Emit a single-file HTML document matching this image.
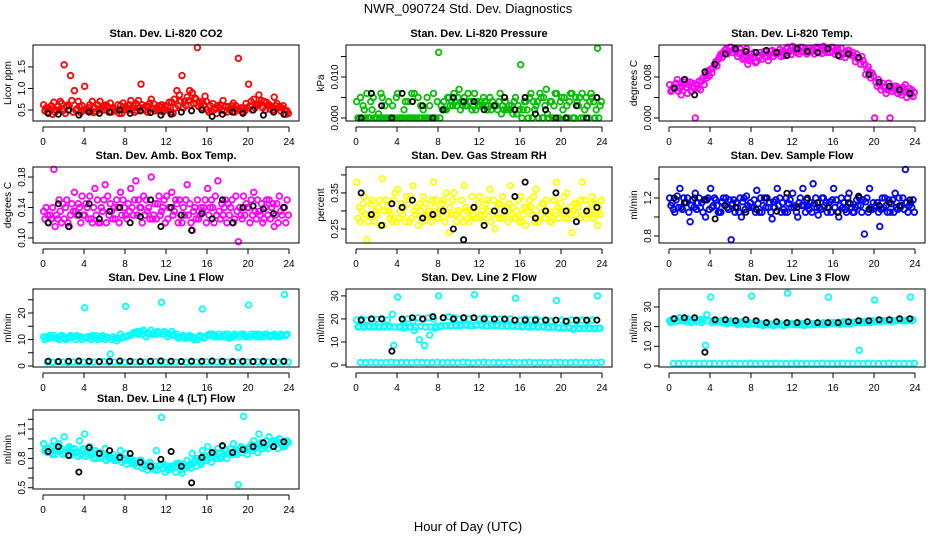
<!DOCTYPE html>
<html><head><meta charset="utf-8">
<style>
html,body{margin:0;padding:0;background:#fff;}
svg{display:block;font-family:"Liberation Sans",sans-serif;}
</style></head>
<body>
<svg id="chart" width="936" height="540" viewBox="0 0 936 540">
<text x="468" y="13" font-size="13" text-anchor="middle">NWR_090724  Std. Dev. Diagnostics</text>
<text x="468" y="531" font-size="13" text-anchor="middle">Hour of Day (UTC)</text>
</svg>
<script>
const hours = [0,4,8,12,16,20,24];
const co2A=[0.62,0.55,0.68,0.5,1.55,0.6,0.95,0.58,1.05,0.62,0.55,0.7,0.5,0.66,0.48,0.6,0.58,0.72,0.65,1.1,0.6,0.75,0.55,0.62,0.5,0.68,0.95,1.3,0.8,0.9,1.95,0.7,0.5,0.65,0.6,0.72,0.58,0.66,1.7,0.55,1.1,0.75,0.85,0.7,0.62,0.8,0.58,0.5];
const co2B=[0.48,0.52,0.45,0.7,0.42,1.3,0.5,0.44,0.52,0.48,0.46,0.55,0.62,0.45,0.5,0.42,0.55,0.5,0.48,0.62,0.45,0.52,0.5,0.46,0.58,0.42,0.6,0.55,0.72,0.65,0.58,0.62,0.45,0.5,0.55,0.48,0.52,0.45,0.5,0.48,0.6,0.55,0.65,0.5,0.52,0.6,0.48,0.4];
const co2C=[0.55,0.6,0.5,0.65,0.58,0.72,0.52,0.6,0.48,0.7,0.62,0.5,0.58,0.55,0.62,0.66,0.5,0.6,0.72,0.55,0.58,0.64,0.6,0.52,0.68,0.75,0.85,0.7,0.95,0.78,0.66,0.82,0.6,0.55,0.62,0.58,0.5,0.6,0.55,0.65,0.7,0.62,0.72,0.68,0.58,0.65,0.55,0.48];
const co2D=[0.45,0.4,0.58,0.48,0.62,0.45,0.7,0.5,0.55,0.44,0.5,0.6,0.45,0.52,0.42,0.5,0.62,0.45,0.55,0.5,0.66,0.48,0.56,0.6,0.45,0.55,0.7,0.6,0.62,0.75,0.55,0.7,0.48,0.42,0.5,0.45,0.6,0.52,0.45,0.55,0.5,0.62,0.55,0.6,0.5,0.55,0.6,0.42];
const co2K=[0.42,0.4,0.5,0.38,0.45,0.42,0.45,0.5,0.42,0.48,0.44,0.38,0.4,0.45,0.48,0.5,0.35,0.4,0.45,0.42,0.5,0.38,0.45,0.4];
const presA=[0.004,0,0.006,0.002,0,0.005,0,0.003,0.006,0,0.004,0,0.005,0.002,0,0.006,0.016,0.004,0.005,0.006,0.007,0.005,0.004,0.006,0.003,0.004,0.005,0.003,0.006,0.004,0.002,0.005,0.013,0.004,0.006,0.003,0.005,0.007,0.004,0.006,0.005,0.003,0.006,0.004,0.006,0.003,0.005,0.017];
const presB=[0,0.003,0,0.005,0.001,0,0.004,0,0,0.002,0,0.006,0,0,0.003,0,0,0.002,0.003,0.004,0.002,0.003,0.004,0.002,0.004,0.003,0.002,0.003,0.001,0.002,0.003,0.001,0,0.002,0,0.004,0,0.001,0,0,0.002,0,0,0.003,0,0,0.004,0];
const presC=[0,0.002,0,0,0,0.003,0,0,0,0.004,0,0,0.003,0,0,0,0.003,0.002,0.004,0.003,0.004,0.003,0.002,0.004,0.003,0.002,0.004,0.002,0.003,0.002,0.001,0.003,0.002,0,0.004,0,0.005,0,0.003,0,0.005,0.004,0,0.005,0.002,0.004,0,0.003];
const presD=[0.005,0,0.004,0,0.006,0,0,0.005,0,0,0.006,0,0,0.005,0,0.004,0.002,0.005,0.003,0.005,0.003,0.006,0.003,0.003,0.005,0.003,0.003,0.004,0.002,0.003,0.004,0.002,0.004,0.005,0.002,0.006,0.003,0.004,0.006,0.004,0,0.006,0.005,0,0.005,0.006,0.002,0.004];
const presK=[0,0.006,0.003,0,0.006,0.004,0.003,0,0.002,0.005,0.004,0.004,0.002,0.003,0.005,0.002,0.005,0.001,0.002,0,0,0.003,0,0.005];
const tempA=[0.0065,0.006,0.0058,0.0075,0.007,0.0,0.0055,0.0085,0.0095,0.011,0.0125,0.0135,0.0138,0.013,0.0128,0.0135,0.0125,0.011,0.0115,0.012,0.0132,0.0125,0.013,0.0138,0.014,0.0135,0.0138,0.0128,0.0132,0.0138,0.014,0.0135,0.0138,0.013,0.0125,0.0132,0.012,0.0115,0.0105,0.009,0.0,0.0065,0.006,0.0,0.0055,0.005,0.0065,0.0045];
const tempB=[0.0052,0.0068,0.0045,0.006,0.0052,0.0065,0.0072,0.0078,0.0088,0.0102,0.0118,0.0125,0.0128,0.012,0.0115,0.0105,0.0118,0.0122,0.0125,0.0112,0.012,0.0128,0.0122,0.0128,0.0132,0.0125,0.013,0.0136,0.0125,0.0128,0.0132,0.0128,0.0125,0.012,0.0118,0.0125,0.011,0.0105,0.0085,0.0078,0.007,0.0055,0.0048,0.0058,0.0062,0.0045,0.004,0.0055];
const tempC=[0.0055,0.0075,0.0062,0.0048,0.0068,0.0058,0.0078,0.0092,0.0098,0.0115,0.0128,0.013,0.0134,0.0126,0.0118,0.0112,0.0128,0.0118,0.013,0.0124,0.0128,0.0134,0.0126,0.0132,0.0136,0.0138,0.0134,0.0132,0.0138,0.0134,0.0136,0.0138,0.0132,0.0136,0.0128,0.0122,0.0125,0.012,0.0095,0.0088,0.0062,0.0068,0.0055,0.0052,0.0048,0.006,0.0052,0.0042];
const tempD=[0.006,0.0052,0.007,0.0065,0.0058,0.0072,0.0065,0.0082,0.0105,0.012,0.0132,0.0138,0.0132,0.0135,0.0122,0.0118,0.0108,0.0128,0.012,0.013,0.0125,0.012,0.0135,0.0124,0.0128,0.013,0.0125,0.013,0.0135,0.0126,0.0128,0.013,0.0136,0.0125,0.0132,0.0128,0.0115,0.0112,0.01,0.0082,0.0075,0.006,0.0068,0.0062,0.0058,0.0052,0.0058,0.005];
const tempK=[0.0058,0.0075,0.0045,0.009,0.0105,0.0125,0.0135,0.013,0.0128,0.0132,0.0128,0.0122,0.0135,0.013,0.0128,0.0135,0.0122,0.0125,0.0118,0.0085,0.007,0.0062,0.0055,0.0048];
const ambA=[0.135,0.12,0.19,0.15,0.125,0.115,0.16,0.14,0.13,0.155,0.165,0.12,0.17,0.145,0.125,0.16,0.13,0.165,0.175,0.14,0.15,0.18,0.125,0.135,0.155,0.16,0.145,0.12,0.17,0.11,0.15,0.135,0.165,0.14,0.175,0.13,0.145,0.12,0.095,0.155,0.14,0.16,0.135,0.125,0.15,0.115,0.155,0.14];
const ambB=[0.125,0.13,0.115,0.135,0.14,0.13,0.135,0.12,0.145,0.125,0.13,0.14,0.12,0.135,0.15,0.13,0.125,0.14,0.13,0.12,0.135,0.125,0.145,0.14,0.125,0.13,0.12,0.14,0.13,0.135,0.125,0.14,0.13,0.12,0.135,0.14,0.13,0.125,0.14,0.13,0.12,0.135,0.13,0.14,0.125,0.13,0.135,0.12];
const ambC=[0.14,0.125,0.13,0.12,0.15,0.145,0.13,0.155,0.14,0.12,0.15,0.135,0.155,0.125,0.14,0.15,0.145,0.13,0.15,0.155,0.14,0.13,0.155,0.15,0.14,0.135,0.15,0.13,0.145,0.14,0.13,0.15,0.14,0.155,0.125,0.15,0.14,0.155,0.13,0.145,0.15,0.125,0.145,0.15,0.14,0.145,0.13,0.15];
const ambD=[0.13,0.14,0.125,0.145,0.12,0.135,0.145,0.13,0.125,0.14,0.12,0.15,0.13,0.14,0.12,0.14,0.135,0.15,0.14,0.13,0.125,0.145,0.13,0.12,0.14,0.15,0.13,0.15,0.12,0.125,0.14,0.12,0.15,0.13,0.145,0.12,0.15,0.135,0.125,0.14,0.13,0.15,0.12,0.13,0.145,0.12,0.14,0.13];
const ambK=[0.12,0.145,0.115,0.13,0.145,0.125,0.135,0.14,0.12,0.128,0.15,0.115,0.14,0.13,0.11,0.132,0.125,0.15,0.12,0.14,0.142,0.138,0.132,0.14];
const rhA=[0.38,0.3,0.22,0.33,0.29,0.39,0.31,0.27,0.36,0.29,0.32,0.37,0.26,0.34,0.3,0.38,0.28,0.33,0.24,0.35,0.3,0.37,0.27,0.31,0.34,0.29,0.36,0.25,0.32,0.3,0.37,0.28,0.34,0.26,0.31,0.36,0.29,0.33,0.27,0.38,0.3,0.35,0.24,0.32,0.38,0.29,0.34,0.26];
const rhB=[0.28,0.32,0.27,0.29,0.31,0.26,0.3,0.33,0.28,0.31,0.27,0.3,0.32,0.28,0.29,0.31,0.3,0.27,0.31,0.29,0.28,0.31,0.3,0.28,0.29,0.32,0.27,0.3,0.28,0.31,0.29,0.3,0.27,0.31,0.29,0.28,0.32,0.3,0.28,0.31,0.3,0.28,0.3,0.31,0.29,0.3,0.28,0.31];
const rhC=[0.31,0.34,0.29,0.27,0.33,0.3,0.28,0.35,0.3,0.27,0.34,0.29,0.3,0.32,0.27,0.33,0.3,0.35,0.29,0.27,0.33,0.3,0.34,0.28,0.3,0.33,0.29,0.32,0.34,0.27,0.31,0.33,0.29,0.3,0.34,0.27,0.32,0.29,0.33,0.28,0.34,0.3,0.32,0.28,0.33,0.3,0.32,0.29];
const rhD=[0.27,0.29,0.32,0.3,0.26,0.33,0.29,0.27,0.32,0.34,0.28,0.31,0.27,0.29,0.33,0.28,0.32,0.29,0.33,0.3,0.27,0.28,0.29,0.32,0.27,0.3,0.33,0.28,0.29,0.32,0.28,0.27,0.31,0.33,0.27,0.31,0.28,0.27,0.3,0.32,0.28,0.31,0.29,0.33,0.28,0.32,0.29,0.33];
const rhK=[0.35,0.29,0.26,0.32,0.31,0.33,0.28,0.29,0.3,0.25,0.22,0.31,0.26,0.3,0.3,0.34,0.38,0.28,0.3,0.35,0.3,0.27,0.3,0.31];
const sfA=[1.2,1.05,1.3,1.15,0.95,1.25,1.1,1.0,1.3,1.18,1.05,1.2,0.76,1.15,1.0,1.22,1.1,1.28,1.05,1.2,0.98,1.3,1.15,1.05,1.25,1.0,1.3,1.12,1.35,1.02,1.2,1.1,1.3,1.0,1.15,1.25,1.05,1.2,0.82,1.3,1.1,0.9,1.2,1.05,1.25,1.1,1.5,1.15];
const sfB=[1.12,1.18,1.1,1.15,1.12,1.08,1.15,1.18,1.1,1.12,1.16,1.1,1.14,1.1,1.16,1.12,1.1,1.14,1.12,1.1,1.16,1.12,1.08,1.14,1.1,1.15,1.12,1.08,1.14,1.1,1.12,1.16,1.1,1.12,1.08,1.14,1.1,1.12,1.16,1.1,1.12,1.08,1.12,1.14,1.1,1.12,1.15,1.1];
const sfC=[1.15,1.22,1.08,1.2,1.18,1.15,1.05,1.2,1.12,1.05,1.2,1.08,1.18,1.05,1.2,1.1,1.18,1.05,1.2,1.15,1.1,1.2,1.05,1.18,1.12,1.2,1.05,1.15,1.2,1.08,1.15,1.05,1.18,1.2,1.05,1.1,1.18,1.05,1.2,1.08,1.15,1.2,1.05,1.18,1.08,1.2,1.05,1.18];
const sfD=[1.08,1.1,1.2,1.05,1.1,1.2,1.18,1.08,1.2,1.05,1.12,1.18,1.05,1.2,1.08,1.15,1.05,1.2,1.1,1.05,1.18,1.05,1.2,1.1,1.05,1.12,1.18,1.05,1.1,1.2,1.05,1.18,1.05,1.1,1.2,1.05,1.12,1.18,1.05,1.15,1.05,1.1,1.18,1.05,1.2,1.08,1.12,1.05];
const sfK=[1.2,1.15,1.2,1.18,0.98,1.12,1.1,1.05,1.08,1.2,1.06,1.25,1.1,1.2,1.15,1.1,1.05,1.15,1.22,1.08,1.12,1.15,1.12,1.18];
const l1A=[11,10.5,11.5,10,11,10.5,11.2,10.8,22,11,10.5,11,10,4.5,10.5,12,22.5,11.5,12.5,13,11,13.5,12,24,12.5,13,12,11,10.5,11,10,21.5,11.5,12,11,11.5,12,11,7,12,23,11.5,12,11,11.5,12,11,27];
const l1B=[10,11.5,10.5,11,10,11.5,10,11,10.5,10,11.5,10.5,11,10,9.5,10.5,11,12,13,12,12.5,12,13,12,11,12,10.5,11.5,11,10,11,10.5,12,11,12,11,10.5,12,11,11.5,11,12,11,12,11,11.5,12,11.5];
const l1D=[11,11,10.5,11.5,10.5,11,11.5,10,11,11.5,10,11.5,10.5,11,10.5,11,11.5,12.5,12,13.5,12,12.5,12.5,13,12,11.5,11,10.5,11.5,10.5,11.5,11,12,11.5,11,12,11,11.5,12,11,12,11,11.5,12,11.5,11,11.5,12];
const l1C=[1.5,1.4,1.6,1.5,1.4,1.5,1.6,1.5,1.4,1.5,1.5,1.6,1.4,1.5,1.5,1.4,1.6,1.5,1.5,1.4,1.5,1.6,1.5,1.4,1.5,1.5,1.6,1.4,1.5,1.5,1.4,1.6,1.5,1.5,1.4,1.5,1.6,1.5,1.4,1.5,1.5,1.6,1.4,1.5,1.5,1.4,1.6,1.5];
const l1K=[1.8,1.7,1.8,1.9,1.8,1.7,1.8,1.9,1.8,1.7,1.8,1.9,1.8,1.7,1.8,1.8,1.9,1.8,1.7,1.8,1.7,1.8,1.7,1.8];
const l2A=[19.5,20,19.5,20,19.8,20,19.5,22,29.5,19.5,20,19,20.5,20,20.5,20,30,20.5,21,20.5,20,20.5,20,30.5,20,20.5,20,19.5,20,19.5,20,29,19.5,20,19.5,20,19,19.5,19,28,19.5,19,19.5,19,19.5,19,19.5,30];
const l2B=[16.5,16.5,16.8,16.5,16.5,16.8,16.5,8.5,16.5,16,16.5,15,11,8.5,13,16,16.5,17,17,17.2,17,17.5,17,17.2,17.5,17,17.2,17,17,16.8,17,16.8,16.5,16.8,16.5,16.5,16.8,16.5,16.5,16.2,16,16.5,15.5,16,16,15.8,16,16];
const l2D=[16.8,16.5,16.5,16.8,16.5,16.5,16.8,16.5,16.5,16.8,16.5,16.5,16.8,16.5,16.5,16.8,17,17,17.2,17,17.5,17.2,17,17.5,17.2,17,17.5,17.2,17,17,16.8,17,16.8,16.5,16.8,16.5,16.5,16.2,16.5,16,16.5,16,16,15.8,16,16,15.8,16];
const l2C=[1.1,1.0,1.2,1.1,1.0,1.1,1.2,1.0,1.1,1.1,1.0,1.2,1.1,1.0,1.1,1.2,1.0,1.1,1.1,1.0,1.2,1.1,1.0,1.1,1.2,1.0,1.1,1.1,1.0,1.2,1.1,1.0,1.1,1.2,1.0,1.1,1.1,1.0,1.2,1.1,1.0,1.1,1.2,1.0,1.1,1.1,1.0,1.2];
const l2K=[19.5,20,20,6,20,20.5,20,21,20.5,20,20.5,20.5,20,20,20,19.5,19.5,19.5,19.5,19.5,19,19.5,19.5,19.5];
const l3A=[23,24,24.5,23.5,23,24,23.5,10.5,35,23,23,22.5,23,22,22.5,22,35.5,22,21.5,22,21,21.5,21,37,21.5,22,21.5,21,21.5,21.5,22,35,22,22,22.5,22,22,8,22.5,22.5,33.5,23,23,23,23,23.5,23,35];
const l3B=[22,22.5,23,22.5,22,22.5,22,26,22,22.5,22,21.5,22,21,21.5,21,21.5,21,20.5,21,20.5,21,20.5,21,21,21,20.5,21,21,21,21,21.5,21.5,21,21.5,21.5,22,22,22,22,22.5,22.5,23,22.5,23,23,23,23];
const l3D=[23.5,23,23.5,24,23.5,23,23.5,23,23,22.5,22,22.5,22,22,21.5,22,21.5,21.5,21,21.5,21,21.5,21,21.5,21,21.5,21.5,21,21.5,21.5,21.5,22,22,22,22,22,22.5,22.5,22.5,23,23,23,23,23,23.5,23,23.5,23.5];
const l3C=[1.3,1.2,1.4,1.3,1.2,1.3,1.4,1.2,1.3,1.3,1.2,1.4,1.3,1.2,1.3,1.4,1.2,1.3,1.3,1.2,1.4,1.3,1.2,1.3,1.4,1.2,1.3,1.3,1.2,1.4,1.3,1.2,1.3,1.4,1.2,1.3,1.3,1.2,1.4,1.3,1.2,1.3,1.4,1.2,1.3,1.3,1.2,1.4];
const l3K=[24,24.5,24.5,7,23.5,23.5,23,23.5,23,22,22.5,22,22,22.5,22,22,22,22.5,23,23,23.5,23.5,24,24];
const l4A=[0.95,0.9,0.98,0.95,1.02,0.92,0.9,0.98,1.05,0.92,0.88,0.85,0.9,0.82,0.8,0.88,0.85,0.8,0.75,0.78,0.72,0.7,0.88,1.22,0.72,0.7,0.75,0.65,0.78,0.85,0.8,0.88,0.92,0.85,0.9,0.92,0.85,0.95,0.53,1.23,0.9,0.98,1.05,0.95,1.02,0.98,1.0,0.92];
const l4B=[0.88,0.86,0.84,0.88,0.85,0.83,0.86,0.84,0.82,0.84,0.8,0.8,0.78,0.8,0.78,0.76,0.74,0.75,0.72,0.7,0.68,0.7,0.68,0.7,0.68,0.7,0.72,0.74,0.72,0.75,0.78,0.8,0.8,0.82,0.85,0.84,0.86,0.88,0.9,0.9,0.92,0.9,0.94,0.92,0.95,0.94,0.96,0.95];
const l4C=[0.9,0.92,0.88,0.9,0.88,0.9,0.86,0.88,0.85,0.86,0.84,0.82,0.82,0.84,0.8,0.8,0.78,0.78,0.76,0.74,0.74,0.72,0.72,0.74,0.72,0.73,0.75,0.7,0.74,0.78,0.76,0.82,0.84,0.86,0.8,0.88,0.9,0.86,0.92,0.88,0.94,0.92,0.96,0.98,0.97,0.98,0.94,0.98];
const l4D=[0.86,0.84,0.9,0.84,0.9,0.86,0.82,0.9,0.88,0.8,0.86,0.84,0.8,0.78,0.82,0.78,0.8,0.74,0.78,0.72,0.76,0.68,0.74,0.66,0.7,0.66,0.68,0.72,0.7,0.72,0.74,0.78,0.76,0.8,0.82,0.8,0.84,0.84,0.86,0.84,0.88,0.86,0.9,0.9,0.92,0.9,0.92,0.96];
const l4K=[0.87,0.92,0.83,0.66,0.91,0.85,0.88,0.81,0.85,0.76,0.72,0.79,0.87,0.72,0.55,0.81,0.86,0.93,0.86,0.89,0.92,0.96,0.92,0.97];

const NS="http://www.w3.org/2000/svg";
const svg=document.getElementById('chart');
function mk(tag,attrs,parent){const e=document.createElementNS(NS,tag);for(const k in attrs)e.setAttribute(k,attrs[k]);(parent||svg).appendChild(e);return e;}

const panels=[
 {id:'li820-co2',title:'Stan. Dev. Li-820 CO2',ylab:'Licor ppm',col:0,row:0,ymin:0.244,ymax:2.01,ticks:[0.5,1.0,1.5],tl:['0.5','1.0','1.5'],color:'#ff0000',series:[co2A,co2B,co2C,co2D],blk:co2K},
 {id:'li820-pressure',title:'Stan. Dev. Li-820 Pressure',ylab:'kPa',col:1,row:0,ymin:-0.00073,ymax:0.0178,ticks:[0,0.005,0.01,0.015],tl:['0.000','','0.010',''],color:'#00c000',series:[presA,presB,presC,presD],blk:presK},
 {id:'li820-temp',title:'Stan. Dev. Li-820 Temp.',ylab:'degrees C',col:2,row:0,ymin:-0.00059,ymax:0.01425,ticks:[0,0.004,0.008,0.012],tl:['0.000','','0.008',''],color:'#ff00ff',series:[tempA,tempB,tempC,tempD],blk:tempK},
 {id:'amb-box-temp',title:'Stan. Dev. Amb. Box Temp.',ylab:'degrees C',col:0,row:1,ymin:0.0934,ymax:0.1932,ticks:[0.10,0.12,0.14,0.16,0.18],tl:['0.10','','0.14','','0.18'],color:'#ff00ff',series:[ambA,ambB,ambC,ambD],blk:ambK},
 {id:'gas-stream-rh',title:'Stan. Dev. Gas Stream RH',ylab:'percent',col:1,row:1,ymin:0.211,ymax:0.422,ticks:[0.25,0.30,0.35,0.40],tl:['0.25','','0.35',''],color:'#ffff00',series:[rhA,rhB,rhC,rhD],blk:rhK},
 {id:'sample-flow',title:'Stan. Dev. Sample Flow',ylab:'ml/min',col:2,row:1,ymin:0.726,ymax:1.526,ticks:[0.8,1.0,1.2,1.4],tl:['0.8','','1.2',''],color:'#0000ff',series:[sfA,sfB,sfC,sfD],blk:sfK},
 {id:'line1-flow',title:'Stan. Dev. Line 1 Flow',ylab:'ml/min',col:0,row:2,ymin:-0.38,ymax:29.06,ticks:[0,5,10,15,20,25],tl:['0','','10','','20',''],color:'#00ffff',series:[l1A,l1B,l1D,l1C],blk:l1K},
 {id:'line2-flow',title:'Stan. Dev. Line 2 Flow',ylab:'ml/min',col:1,row:2,ymin:-0.87,ymax:33.0,ticks:[0,10,20,30],tl:['0','10','20','30'],color:'#00ffff',series:[l2A,l2B,l2D,l2C],blk:l2K},
 {id:'line3-flow',title:'Stan. Dev. Line 3 Flow',ylab:'ml/min',col:2,row:2,ymin:-0.51,ymax:39.1,ticks:[0,10,20,30],tl:['0','10','20','30'],color:'#00ffff',series:[l3A,l3B,l3D,l3C],blk:l3K},
 {id:'line4-lt-flow',title:'Stan. Dev. Line 4 (LT) Flow',ylab:'ml/min',col:0,row:3,ymin:0.487,ymax:1.295,ticks:[0.5,0.6,0.7,0.8,0.9,1.0,1.1,1.2],tl:['0.5','','','0.8','','','1.1',''],color:'#00ffff',series:[l4A,l4B,l4C,l4D],blk:l4K}
];
const rowTop=[45,167,289,410], rowBot=[121,243,367,489];

panels.forEach(p=>{
  const bx=33+313*p.col, bw=266, by=rowTop[p.row], bb=rowBot[p.row];
  const x0=bx+10, x1=bx+256;
  const sx=h=>x0+(h/24)*(x1-x0);
  const sy=v=>bb-(v-p.ymin)/(p.ymax-p.ymin)*(bb-by);
  const g=mk('g',{});
  
  
  const t=mk('text',{x:bx+bw/2,y:by-8,'font-size':11,'font-weight':'bold','text-anchor':'middle'},g);
  t.textContent=p.title;
  
  
  const yl=mk('text',{x:0,y:0,'font-size':10,'text-anchor':'middle',transform:`translate(${bx-22},${(by+bb)/2}) rotate(-90)`},g);
  yl.textContent=p.ylab;
  
  
  const mg=mk('g',{fill:'none','stroke-width':1.8},g);
  
  
  const n=p.series.length;
  p.series.forEach((arr,k)=>{
    arr.forEach((v,i)=>{
      const c=mk('circle',{cx:sx((i+(k+0.5)/n)*0.5),cy:sy(v),r:2.8,stroke:p.color},mg);
      
      
    });
  });
  p.blk.forEach((v,i)=>{
    const c=mk('circle',{cx:sx(0.5+i),cy:sy(v),r:2.6,stroke:'#000'},mg);
    
    
  });
  const box=mk('rect',{x:bx,y:by,width:bw,height:bb-by,fill:'none',stroke:'#000','stroke-width':1},g);
  
  
  const xa=mk('g',{},g);
  
  
  mk('line',{x1:sx(0),x2:sx(24),y1:bb+6,y2:bb+6,stroke:'#000'},xa);
  hours.forEach(h=>{
    mk('line',{x1:sx(h),x2:sx(h),y1:bb+6,y2:bb+11,stroke:'#000'},xa);
    const tx=mk('text',{x:sx(h),y:bb+24,'font-size':10,'text-anchor':'middle'},xa);
    tx.textContent=String(h);
    
    
  });
  const ya=mk('g',{},g);
  
  
  mk('line',{x1:bx,x2:bx,y1:sy(p.ticks[0]),y2:sy(p.ticks[p.ticks.length-1]),stroke:'#000'},ya);
  p.ticks.forEach((v,i)=>{
    mk('line',{x1:bx-5,x2:bx,y1:sy(v),y2:sy(v),stroke:'#000'},ya);
    if(p.tl[i]){
      const ty=mk('text',{x:0,y:0,'font-size':10,'text-anchor':'middle',transform:`translate(${bx-8},${sy(v)}) rotate(-90)`},ya);
      ty.textContent=p.tl[i];
      
      
    }
  });
});
</script>
</body></html>
